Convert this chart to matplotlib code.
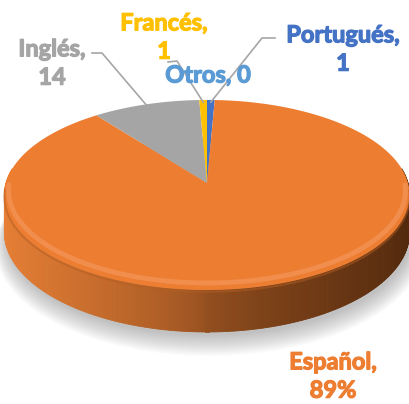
import numpy as np
import matplotlib.pyplot as plt
import matplotlib.patheffects as pe
from matplotlib.patches import Polygon

# data (clockwise from 12 o'clock)
langs = ['Portugués', 'Español', 'Inglés', 'Francés', 'Otros']
counts = [1, 129, 14, 1, 0]
colors = ['#4472C4', '#ED7D31', '#A5A5A5', '#FFC000', '#5B9BD5']
label_txt = ['Portugués,\n1', 'Español,\n89%', 'Inglés,\n14', 'Francés,\n1', 'Otros, 0']
label_pos = [(343, 49), (333, 376), (52, 63), (164, 37), (208, 75)]

# projection of the tilted disk (pixel-like data coords)
cx, cy = 207, 183
A, B, k = 201, 93.5, 0.126
H = 36.7


def proj(t, drop=0.0, r=1.0):
    X, Y = r * np.cos(t), r * np.sin(t)
    s = 1 + k * Y
    return cx + A * X / s, cy - B * Y / s + drop / s


fig = plt.figure(figsize=(4.09, 4.04), dpi=100)
ax = fig.add_axes([0, 0, 1, 1])
ax.set_xlim(0, 409)
ax.set_ylim(404, 0)
ax.axis('off')

# soft shadow
for i in range(14):
    t = np.linspace(0, 2 * np.pi, 300)
    x, y = proj(t, H + 3 + i * 0.9, 1.0 + i * 0.004)
    ax.add_patch(Polygon(np.c_[x + 2, y], closed=True, fc='#707070', ec='none', alpha=0.035, zorder=1))

# side wall
ts = np.linspace(np.pi * 0.95, np.pi * 2.05, 260)
c_left = np.array([0.91, 0.50, 0.21])
c_mid = np.array([0.58, 0.31, 0.12])
c_right = np.array([0.32, 0.16, 0.05])
for t0, t1 in zip(ts[:-1], ts[1:]):
    xa, ya = proj(np.array([t0, t1]))
    xb, yb = proj(np.array([t1, t0]), H)
    X = np.cos((t0 + t1) / 2)
    if X < 0:
        c = c_mid + (c_left - c_mid) * (-X) ** 0.7
    else:
        c = c_mid + (c_right - c_mid) * X ** 0.8
    ax.add_patch(Polygon(np.c_[np.r_[xa, xb], np.r_[ya, yb]], closed=True,
                         fc=c, ec=c, lw=0.6, zorder=2))

# top surface wedges
total = sum(counts)
start = 90.0
mids = []
for n, col in zip(counts, colors):
    span = n / total * 360
    a1, a2 = start, start - span
    mids.append(np.radians((a1 + a2) / 2))
    start = a2
    if n == 0:
        continue
    t = np.radians(np.linspace(a1, a2, max(int(span), 2) * 2))
    x, y = proj(t)
    ax.add_patch(Polygon(np.c_[np.r_[cx, x], np.r_[cy, y]], closed=True,
                         fc=col, ec='none', zorder=3))

# bevel highlight along front rim
tb = np.linspace(np.pi * 1.02, np.pi * 1.98, 200)
xh, yh = proj(tb, -4, 0.98)
ax.plot(xh, yh, color='#F5A06A', lw=3.5, alpha=0.5, zorder=4, solid_capstyle='round')
xh, yh = proj(tb, 1.5)
ax.plot(xh, yh, color='#B45E22', lw=1.5, alpha=0.5, zorder=4)

# leader lines
lead_start = {0: [(275, 38), (262, 38)], 2: [(92, 53), (102, 53)], 3: [(168, 62), (177, 61)]}
for i, pts in lead_start.items():
    ex, ey = proj(mids[i], 0, 0.97)
    xs = [p[0] for p in pts] + [ex]
    ys = [p[1] for p in pts] + [ey]
    ax.plot(xs, ys, color='#A6A6A6', lw=1.2, zorder=5)

# labels
for txt, (px, py), col in zip(label_txt, label_pos, colors):
    ax.text(px, py, txt, color=col, fontsize=17, fontweight='bold', family=['Lato', 'DejaVu Sans'],
            ha='center', va='center', linespacing=1.28, zorder=6,
            path_effects=[pe.withStroke(linewidth=0.9, foreground=col)])

fig.savefig('out.png', dpi=100)
